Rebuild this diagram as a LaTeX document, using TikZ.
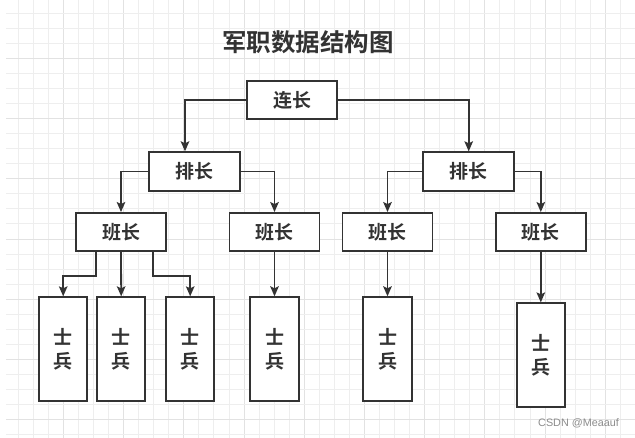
\documentclass[tikz,border=0pt]{standalone}
\usepackage{fontspec}
\newfontfamily\cjk{Noto Sans CJK SC}
\newfontfamily\cjkb{Noto Sans CJK SC Bold}
\setmainfont{Liberation Sans}
\usetikzlibrary{arrows.meta,calc}
\definecolor{ln}{HTML}{333333}
\definecolor{gminor}{HTML}{EEEEEE}
\definecolor{gmajor}{HTML}{E2E2E2}
\tikzset{
  box/.style={draw=ln, line width=1.9pt, fill=white, inner sep=0pt, align=center,
    font=\cjkb\fontsize{19}{24}\selectfont, text=ln},
  hbox/.style={box, minimum width=90pt, minimum height=38pt},
  vbox/.style={box, minimum width=48.3pt, minimum height=103.4pt},
  conn/.style={draw=ln, line width=1.8pt, -{Stealth[length=10pt,width=8.5pt,inset=2pt]}},
}
\begin{document}
\begin{tikzpicture}[x=1pt,y=-1pt]
\useasboundingbox (0,0) rectangle (635,438);
\fill[white] (0,0) rectangle (635,438);
% grid
\foreach \k in {0,...,40}{
  \pgfmathtruncatemacro{\m}{mod(\k,4)}
  \ifnum\m=3 \def\gc{gmajor}\else\def\gc{gminor}\fi
  \draw[\gc, line width=1pt] (18.3+15.05*\k,0) -- (18.3+15.05*\k,438);
}
\foreach \k in {0,...,28}{
  \pgfmathtruncatemacro{\m}{mod(\k,4)}
  \ifnum\m=3 \def\gc{gmajor}\else\def\gc{gminor}\fi
  \draw[\gc, line width=1pt] (6,13.3+15.05*\k) -- (635,13.3+15.05*\k);
}
% title
\node[font=\cjkb\fontsize{24.5}{28}\selectfont, text=ln] (title) at (308,42) {军职数据结构图};
% nodes
\node[hbox] (lian) at (292,100) {连长};
\node[hbox, minimum width=90.7pt, minimum height=38.4pt] (pai1) at (194.5,171.5) {排长};
\node[hbox, minimum width=90.7pt, minimum height=38.4pt] (pai2) at (468.7,171.5) {排长};
\node[hbox] (ban1) at (121,232) {班长};
\node[hbox] (ban2) at (274.5,232) {班长};
\node[hbox] (ban3) at (387.5,232) {班长};
\node[hbox] (ban4) at (540.8,232) {班长};
\node[vbox] (s1) at (63.2,349) {士\\兵};
\node[vbox] (s2) at (121.2,349) {士\\兵};
\node[vbox] (s3) at (190.2,349) {士\\兵};
\node[vbox] (s4) at (274.5,349) {士\\兵};
\node[vbox] (s5) at (387.5,349) {士\\兵};
\node[vbox, minimum height=103.7pt] (s6) at (540.8,355.2) {士\\兵};
% connectors
\draw[conn] (lian.west) -| ([xshift=-9.5pt]pai1.north);
\draw[conn] (lian.east) -| (pai2.north);
\draw[conn] (pai1.west) -| (ban1.north);
\draw[conn] (pai1.east) -| (ban2.north);
\draw[conn] (pai2.west) -| (ban3.north);
\draw[conn] (pai2.east) -| (ban4.north);
\coordinate (b1l) at ([xshift=-25pt]ban1.south);
\coordinate (b1r) at ([xshift=32.3pt]ban1.south);
\draw[conn] (b1l) -- ++(0,24) -| (s1.north);
\draw[conn] (ban1.south) -- (s2.north);
\draw[conn] (b1r) -- ++(0,24) -| (s3.north);
\draw[conn] (ban2.south) -- (s4.north);
\draw[conn] (ban3.south) -- (s5.north);
\draw[conn] (ban4.south) -- (s6.north);
% watermark
\node[anchor=west, inner sep=0pt, text=black!45, font=\fontsize{10.8}{12}\selectfont] (wm) at (538,423) {CSDN @Meaauf};
\end{tikzpicture}
\end{document}
